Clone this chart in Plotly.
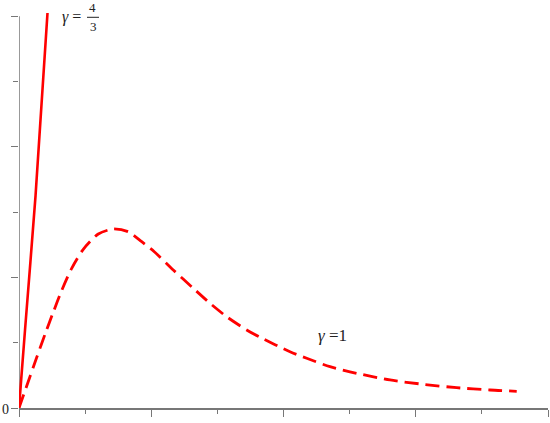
import plotly.graph_objects as go

# gamma = 4/3 curve (solid)
g43_x = [0.0, 0.091, 0.250, 0.431]
g43_y = [0.0, 1.195, 3.250, 6.050]

# gamma = 1 curve (dashed)
g1_x = [0.0, 0.135, 0.270, 0.408, 0.519, 0.646, 0.797, 0.972, 1.199,
        1.426, 1.653, 1.856, 2.046, 2.333, 2.636, 2.888, 3.141, 3.443, 3.645,
        4.098, 4.351, 4.703, 5.107, 5.611, 6.114, 6.619, 7.123, 7.527]
g1_y = [0.0, 0.390, 0.780, 1.170, 1.470, 1.800, 2.140, 2.431, 2.665,
        2.742, 2.700, 2.547, 2.394, 2.114, 1.833, 1.604, 1.398, 1.195, 1.083,
        0.862, 0.761, 0.633, 0.531, 0.429, 0.363, 0.311, 0.276, 0.256]

x_range = [0, 8]
y_range = [0, 6.05]
y_axis_top = 6

W, H = 550, 423
L, R, T, B = 19, 2, 13, 15
PW, PH = W - L - R, H - T - B

def px(x):
    return (x - L) / PW

def py(y):
    return (H - B - y) / PH

AX = "#777777"
FONT = "Liberation Serif"

fig = go.Figure()
fig.add_trace(go.Scatter(x=g43_x, y=g43_y, mode="lines", hoverinfo="skip",
                         line=dict(color="#ff0000", width=2.6, shape="spline",
                                   smoothing=0.5)))
fig.add_trace(go.Scatter(x=g1_x, y=g1_y, mode="lines", hoverinfo="skip",
                         line=dict(color="#ff0000", width=2.8, shape="spline",
                                   smoothing=0.7, dash="14px,7px")))

fig.update_layout(
    width=W, height=H, margin=dict(l=L, r=R, t=T, b=B, autoexpand=False),
    paper_bgcolor="white", plot_bgcolor="white", showlegend=False,
    xaxis=dict(range=x_range, showgrid=False, zeroline=False, showline=True,
               automargin=False,
               linecolor=AX, linewidth=1.5, ticks="outside", ticklen=7,
               tickcolor=AX, tickwidth=1.3, tickmode="linear", tick0=0, dtick=2,
               showticklabels=False,
               minor=dict(ticks="outside", ticklen=4, tickcolor=AX,
                          tickwidth=1.3, dtick=1, tick0=0, showgrid=False)),
    yaxis=dict(range=y_range, showgrid=False, zeroline=False, showline=False,
               automargin=False,
               ticks="outside", ticklen=7, tickcolor=AX, tickwidth=1.3,
               tickmode="array", tickvals=[0, 2, 4, 6], showticklabels=False,
               minor=dict(ticks="outside", ticklen=5, tickcolor=AX,
                          tickwidth=1.3, tickmode="array",
                          tickvals=[1, 3, 5], showgrid=False)),
)

# y axis line (ends at the top tick)
fig.add_shape(type="line", xref="x", yref="y", x0=0, x1=0, y0=0, y1=y_axis_top,
              line=dict(color=AX, width=1.5), layer="below")

ann = []
ann.append(dict(text="0", x=px(5), y=py(409), xref="paper", yref="paper",
                showarrow=False, xanchor="center", yanchor="middle",
                font=dict(family=FONT, size=14, color="#222")))
ann.append(dict(text="<i>γ</i> =", x=px(60), y=py(17), xref="paper", yref="paper",
                showarrow=False, xanchor="left", yanchor="middle",
                font=dict(family=FONT, size=16, color="#222")))
ann.append(dict(text="4", x=px(92.5), y=py(7.5), xref="paper", yref="paper",
                showarrow=False, xanchor="center", yanchor="middle",
                font=dict(family=FONT, size=13, color="#222")))
ann.append(dict(text="3", x=px(93), y=py(27), xref="paper", yref="paper",
                showarrow=False, xanchor="center", yanchor="middle",
                font=dict(family=FONT, size=13, color="#222")))
ann.append(dict(text="<i>γ</i> =1", x=px(316), y=py(335), xref="paper", yref="paper",
                showarrow=False, xanchor="left", yanchor="middle",
                font=dict(family=FONT, size=17, color="#222")))
fig.update_layout(annotations=ann)

fig.add_shape(type="line", xref="paper", yref="paper",
              x0=px(87), x1=px(99), y0=py(17.3), y1=py(17.3),
              line=dict(color="#222", width=1))

fig.write_html("out.html", config={"displayModeBar": False},
               post_script="document.body.style.margin='0';")
